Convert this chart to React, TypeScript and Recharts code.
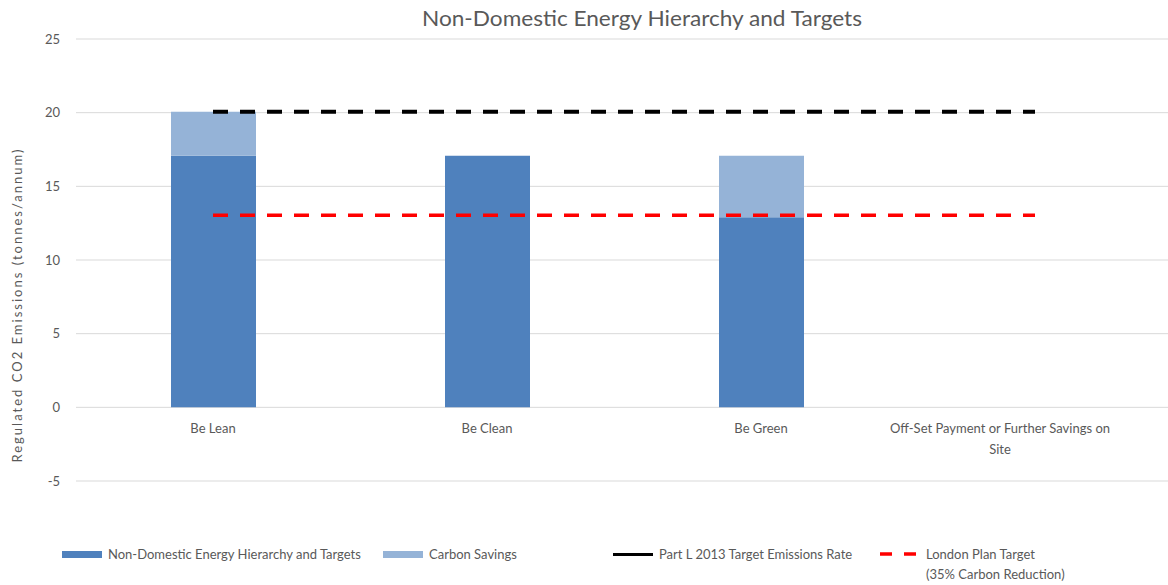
import { ComposedChart, Bar, Line, XAxis, YAxis, CartesianGrid } from "recharts";

const categories = [
  "Be Lean",
  "Be Clean",
  "Be Green",
  "Off-Set Payment or Further Savings on Site",
];
const hierarchy = [17.07, 17.07, 12.9, 0];
const carbonSavings = [2.99, 0, 4.17, 0];
const partLTarget = [20.06, 20.06, 20.06, 20.06];
const londonPlanTarget = [13.04, 13.04, 13.04, 13.04];
const yTicks = [-5, 0, 5, 10, 15, 20, 25];

const data = categories.map((name, i) => ({
  name,
  hierarchy: hierarchy[i],
  savings: carbonSavings[i],
  partL: partLTarget[i],
  london: londonPlanTarget[i],
}));

const FONT = "Lato, 'Open Sans', sans-serif";
const TEXT = "#595959";
const DARK_BLUE = "#4F81BD";
const LIGHT_BLUE = "#95B3D7";
const MAX_LABEL_X = 1000; // excel pulls the last label back inside the chart
const MAX_CHARS = 38;

// greedy word wrap by character count
function wrap(label: string) {
  const lines: string[] = [];
  let cur = "";
  for (const w of label.split(" ")) {
    const next = cur ? cur + " " + w : w;
    if (next.length > MAX_CHARS && cur) {
      lines.push(cur);
      cur = w;
    } else {
      cur = next;
    }
  }
  if (cur) lines.push(cur);
  return lines;
}

// category labels sit under the zero line, not at the bottom of the plot
const CategoryTick = (props: any) => {
  const { x, y, payload } = props;
  const cx = Math.min(x, MAX_LABEL_X);
  return (
    <text
      x={cx}
      y={y - 56}
      textAnchor="middle"
      fill={TEXT}
      fontSize={13}
      fontFamily={FONT}
    >
      {wrap(String(payload.value)).map((line, i) => (
        <tspan key={i} x={cx} dy={i === 0 ? 0 : 21}>
          {line}
        </tspan>
      ))}
    </text>
  );
};

const legendItems = [
  { label: "Non-Domestic Energy Hierarchy and Targets", left: 62, kind: "bar", color: DARK_BLUE },
  { label: "Carbon Savings", left: 383, kind: "bar", color: LIGHT_BLUE },
  { label: "Part L 2013 Target Emissions Rate", left: 613, kind: "line", color: "#000000" },
  { label: "London Plan Target\n(35% Carbon Reduction)", left: 880, kind: "dash", color: "#FF0000" },
];

function LegendIcon({ kind, color }: { kind: string; color: string }) {
  if (kind === "bar") {
    return <div style={{ width: 40, height: 7, background: color }} />;
  }
  if (kind === "line") {
    return <div style={{ width: 40, height: 3, background: color }} />;
  }
  return (
    <svg width={40} height={8}>
      <line x1={0} x2={38} y1={4} y2={4} stroke={color} strokeWidth={3.5} strokeDasharray="12 12" />
    </svg>
  );
}

export default function App() {
  return (
    <div
      style={{
        position: "absolute",
        left: 0,
        top: 0,
        width: 1168,
        height: 585,
        background: "#fff",
        fontFamily: FONT,
        overflow: "hidden",
      }}
    >
      <ComposedChart
        width={1168}
        height={585}
        data={data}
        margin={{ top: 39, right: -4, bottom: 74, left: 16 }}
      >
        <CartesianGrid vertical={false} stroke="#D9D9D9" strokeWidth={1} />
        <XAxis
          dataKey="name"
          axisLine={false}
          tickLine={false}
          height={30}
          interval={0}
          tick={<CategoryTick />}
        />
        <YAxis
          domain={[-5, 25]}
          ticks={yTicks}
          width={60}
          axisLine={false}
          tickLine={false}
          tickMargin={10}
          tick={{ fill: TEXT, fontSize: 13, fontFamily: FONT }}
        />
        <Bar dataKey="hierarchy" stackId="a" fill={DARK_BLUE} barSize={85} isAnimationActive={false} />
        <Bar dataKey="savings" stackId="a" fill={LIGHT_BLUE} barSize={85} isAnimationActive={false} />
        <Line
          dataKey="partL"
          type="linear"
          stroke="#000000"
          strokeWidth={4}
          strokeDasharray="15 12"
          dot={false}
          activeDot={false}
          isAnimationActive={false}
        />
        <Line
          dataKey="london"
          type="linear"
          stroke="#FF0000"
          strokeWidth={3.5}
          strokeDasharray="15 12"
          dot={false}
          activeDot={false}
          isAnimationActive={false}
        />
      </ComposedChart>

      <svg
        width={1168}
        height={585}
        style={{ position: "absolute", left: 0, top: 0, pointerEvents: "none" }}
      >
        <text
          x={642}
          y={26}
          textAnchor="middle"
          fontSize={21}
          fontFamily={FONT}
          fill={TEXT}
          textLength={440}
          lengthAdjust="spacingAndGlyphs"
        >
          Non-Domestic Energy Hierarchy and Targets
        </text>
        <text
          x={0}
          y={0}
          transform="translate(22 306) rotate(-90)"
          textAnchor="middle"
          fontSize={13}
          fontFamily={FONT}
          fill={TEXT}
          textLength={313}
          lengthAdjust="spacing"
        >
          Regulated CO2 Emissions (tonnes/annum)
        </text>
      </svg>

      {legendItems.map((item) => (
        <div
          key={item.label}
          style={{
            position: "absolute",
            left: item.left,
            top: 546,
            display: "flex",
            alignItems: "flex-start",
            fontSize: 13,
            color: TEXT,
          }}
        >
          <div style={{ height: 16, display: "flex", alignItems: "center", marginRight: 6 }}>
            <LegendIcon kind={item.kind} color={item.color} />
          </div>
          <div style={{ whiteSpace: "pre-line", lineHeight: "20px", marginTop: -2 }}>{item.label}</div>
        </div>
      ))}
    </div>
  );
}
